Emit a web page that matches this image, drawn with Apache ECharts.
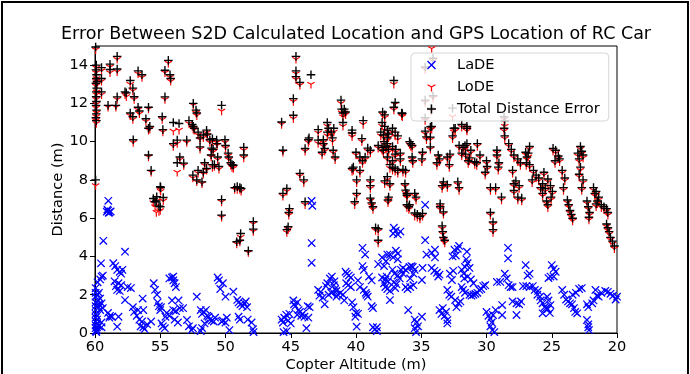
<!DOCTYPE html>
<html>
<head>
<meta charset="utf-8">
<script src="https://cdn.jsdelivr.net/npm/echarts@6/dist/echarts.min.js"></script>
<style>
html,body{margin:0;padding:0;background:#fff;}
#chart{width:690px;height:374px;}
</style>
</head>
<body>
<div id="chart"></div>
<script>
// ---- data ----
const chartTitle = 'Error Between S2D Calculated Location and GPS Location of RC Car';
const seriesNames = ['LaDE', 'LoDE', 'Total Distance Error'];
const xTicks = [20, 25, 30, 35, 40, 45, 50, 55, 60];
const yTicks = [0, 2, 4, 6, 8, 10, 12, 14];

// [copter altitude (m), total distance error (m), LoDE (m)]
const totalRows = [
[59.95,14.95,14.8],[59.9,14.0,13.85],[59.92,13.75,13.6],[59.88,13.5,13.3],[59.9,13.3,13.15],[59.93,13.05,12.9],[59.87,12.8,12.6],[59.9,12.6,12.45],[59.91,12.35,12.2],[59.89,12.1,11.95],
[59.92,11.9,11.75],[59.88,11.65,11.5],[59.9,11.45,11.3],[59.93,11.25,11.1],[59.9,11.1,10.95],[59.95,8.0,7.7],[59.85,13.15,13.0],[59.5,13.87,13.7],[59.5,13.3,13.15],[59.5,12.6,12.45],
[59.0,11.9,11.8],[58.4,11.9,11.8],[58.85,14.05,13.9],[58.85,13.77,13.6],[58.3,14.46,14.3],[58.3,13.8,13.65],[58.3,12.34,12.2],[57.7,12.6,12.45],[57.6,12.55,12.35],[57.3,13.2,13.0],
[57.1,12.8,12.65],[57.0,12.35,12.2],[57.3,11.5,11.35],[57.1,11.3,11.15],[57.07,10.1,9.95],[56.7,13.7,13.55],[56.4,13.5,13.35],[56.7,11.8,11.65],[56.6,11.6,11.45],[56.1,11.2,11.05],
[55.9,11.8,11.7],[55.9,10.7,10.6],[55.8,10.8,10.65],[55.9,9.3,9.2],[55.7,8.5,8.4],[55.0,7.65,7.5],[55.53,7.03,6.8],[55.4,6.86,6.6],[55.27,7.12,6.9],[54.97,7.6,7.4],
[54.77,7.08,6.9],[55.1,6.63,6.35],[55.0,6.6,6.4],[55.3,6.9,6.3],[54.85,11.3,11.15],[54.8,10.63,10.5],[54.64,12.34,12.2],[54.64,13.73,13.6],[54.38,14.25,14.1],[54.25,13.5,13.35],
[54.2,13.3,13.15],[54.0,11.0,10.55],[53.56,10.95,10.6],[53.7,10.08,9.9],[54.0,9.9,9.75],[53.5,9.2,9.05],[53.7,8.9,8.4],[53.2,8.88,8.75],[52.97,10.08,9.95],[52.8,11.1,10.95],
[52.55,10.9,10.8],[52.47,10.8,10.65],[52.4,10.7,10.6],[52.26,11.65,11.5],[52.2,11.5,11.35],[52.47,12.0,11.9],[52.1,10.5,10.35],[51.95,10.2,10.1],[51.7,10.35,10.2],[51.95,9.73,9.6],
[51.7,8.4,8.3],[51.8,7.9,7.8],[51.45,10.6,10.45],[51.4,10.4,10.3],[51.45,8.6,8.5],[51.2,10.1,9.95],[51.0,10.15,10.0],[51.07,9.66,9.5],[50.95,9.6,9.45],[51.1,9.3,9.2],
[51.0,8.8,8.65],[50.85,8.8,8.7],[50.6,9.2,9.05],[50.5,8.7,8.55],[50.68,10.08,9.95],[50.65,9.9,9.8],[50.3,11.9,11.6],[50.04,10.1,9.95],[50.0,9.8,9.65],[49.8,9.4,9.25],
[49.75,9.2,9.05],[49.6,8.9,8.75],[49.5,8.8,8.65],[49.4,8.77,8.6],[52.5,8.25,8.1],[52.2,8.0,7.9],[52.1,8.5,8.35],[51.6,8.9,8.75],[49.3,7.6,7.5],[49.1,7.65,7.5],
[48.9,7.6,7.5],[48.8,7.55,7.4],[50.3,6.97,6.85],[50.3,6.16,6.05],[49.14,4.77,4.65],[48.9,4.85,4.75],[48.84,5.2,5.0],[48.25,4.3,4.2],[47.87,5.82,5.7],[47.87,5.43,5.3],
[48.6,9.7,9.55],[48.6,9.3,9.15],[45.7,11.03,10.9],[45.6,9.55,9.45],[44.8,12.25,12.1],[44.8,11.38,11.2],[44.6,14.46,14.3],[44.6,13.7,13.55],[44.6,13.4,13.25],[44.3,13.1,12.95],
[43.45,13.5,13.0],[44.3,8.34,8.2],[44.0,8.0,7.85],[45.3,7.55,7.4],[45.6,7.3,7.15],[45.1,6.5,6.35],[45.15,6.3,6.15],[45.2,5.55,5.4],[45.3,5.4,5.25],[43.9,6.86,6.7],
[43.65,10.1,9.95],[43.9,9.64,9.5],[42.9,10.63,10.45],[43.6,10.2,10.05],[42.2,11.0,10.8],[42.1,10.7,10.5],[42.2,10.5,10.3],[41.9,10.5,10.35],[41.7,10.7,10.5],[41.8,10.2,10.0],
[42.5,10.1,9.95],[41.15,12.17,12.0],[41.1,11.7,11.5],[40.9,11.7,11.5],[41.0,11.5,11.3],[40.8,11.55,11.4],[41.0,11.0,10.8],[40.3,10.6,10.4],[40.3,10.45,10.25],[39.45,11.1,10.9],
[37.1,13.2,13.0],[37.96,11.55,11.4],[37.1,11.8,11.65],[37.0,12.05,11.95],[36.5,11.5,11.35],[38.0,11.0,10.8],[37.8,10.8,10.6],[37.6,10.6,10.4],[37.5,10.4,10.2],[37.2,10.7,10.5],
[37.0,10.5,10.3],[36.8,10.3,10.1],[34.6,10.25,10.1],[37.8,11.4,11.25],[36.45,11.47,11.3],[37.85,10.0,9.85],[37.6,9.9,9.75],[37.2,9.75,9.6],[36.95,9.6,9.45],[37.0,9.35,9.2],
[36.6,9.4,9.25],[35.9,10.0,9.85],[35.8,9.9,9.75],[37.6,9.2,9.05],[37.2,9.0,8.85],[37.4,8.8,8.6],[37.0,8.6,8.45],[36.4,8.55,8.4],[36.2,8.5,8.35],[37.6,8.17,8.0],
[37.8,7.95,7.8],[37.5,7.1,6.95],[37.55,6.95,6.8],[36.2,7.47,7.3],[36.1,7.2,7.05],[36.1,6.7,6.55],[35.95,6.6,6.45],[35.5,7.3,7.15],[35.4,7.1,6.95],[35.5,6.27,6.1],
[35.3,6.2,6.05],[35.1,6.1,5.95],[34.9,6.25,6.1],[35.7,9.8,9.65],[35.7,9.2,9.05],[35.65,9.0,8.85],[34.9,9.45,9.3],[34.95,9.1,8.95],[34.3,10.77,10.6],[34.3,10.24,10.1],
[34.3,9.73,9.6],[34.25,11.75,11.6],[34.7,10.55,10.4],[33.7,9.3,9.15],[33.6,9.1,8.95],[33.8,8.9,8.75],[33.0,9.2,9.05],[32.8,9.35,9.2],[32.85,8.8,8.65],[32.5,10.7,10.5],
[31.9,10.9,10.75],[32.6,10.3,10.15],[31.5,10.8,10.65],[32.1,9.8,9.65],[31.8,9.7,9.55],[31.9,9.4,9.25],[31.65,9.8,9.6],[33.3,7.9,7.75],[33.0,7.75,7.6],[33.4,7.7,7.55],
[32.2,7.9,7.75],[32.1,7.6,7.45],[33.55,6.6,6.45],[33.3,6.33,6.2],[33.4,5.6,5.45],[33.35,5.3,5.15],[33.3,5.0,4.85],[31.5,9.9,9.75],[31.6,9.35,9.2],[31.4,9.0,8.85],
[31.2,9.55,9.4],[31.3,9.15,9.0],[30.7,9.9,9.75],[30.5,9.3,9.15],[30.75,8.9,8.75],[30.9,8.95,8.8],[30.0,9.0,8.85],[29.95,8.7,8.55],[30.1,8.4,8.25],[29.7,7.6,7.45],
[29.3,7.6,7.45],[28.85,7.1,6.95],[29.7,6.3,6.15],[29.5,5.8,5.65],[29.5,5.4,5.25],[29.2,9.55,9.4],[29.2,9.3,9.15],[29.05,8.9,8.75],[29.1,8.67,8.5],[28.65,11.3,11.15],
[28.65,10.7,10.55],[28.6,10.3,10.15],[28.3,9.9,9.75],[28.1,9.6,9.45],[27.9,9.3,9.15],[28.0,8.5,8.35],[27.9,7.8,7.65],[27.75,7.95,7.8],[27.9,7.45,7.3],[27.5,7.7,7.55],
[27.6,7.1,6.95],[27.3,7.05,6.9],[27.6,9.1,8.95],[27.4,8.9,8.75],[27.0,9.45,9.3],[26.9,9.2,9.05],[26.95,8.9,8.75],[26.7,9.75,9.6],[26.8,9.4,9.2],[26.7,8.8,8.65],
[26.4,8.5,8.35],[26.2,8.25,8.1],[26.0,8.1,7.95],[26.5,8.0,7.85],[25.7,7.8,7.65],[25.85,7.6,7.45],[25.7,7.3,7.15],[25.5,7.55,7.4],[25.4,6.9,6.75],[25.3,6.7,6.55],
[25.6,8.4,8.25],[25.3,8.05,7.9],[25.1,7.7,7.55],[24.95,7.4,7.25],[25.05,7.1,6.95],[24.9,9.65,9.5],[24.7,9.55,9.4],[24.5,9.25,9.1],[24.4,9.1,8.95],[24.75,9.0,8.85],
[24.2,8.5,8.35],[24.0,8.1,7.95],[24.1,7.6,7.45],[23.8,6.95,6.8],[23.7,6.7,6.55],[23.6,6.4,6.25],[23.5,6.2,6.05],[23.4,6.0,5.85],[22.8,9.75,9.6],[22.7,9.5,9.35],
[22.6,9.3,9.15],[22.9,9.1,8.95],[23.0,9.4,9.25],[22.8,8.67,8.5],[22.9,8.3,8.15],[22.6,8.0,7.85],[22.7,7.6,7.45],[22.3,6.9,6.75],[22.2,6.6,6.45],[22.1,6.3,6.15],
[22.15,6.05,5.9],[21.8,7.6,7.45],[21.6,7.4,7.25],[21.4,7.1,6.95],[21.2,6.7,6.55],[21.0,6.6,6.45],[20.8,6.5,6.35],[20.7,6.3,6.15],[21.7,7.3,7.15],[21.5,6.9,6.75],
[21.6,6.75,6.6],[20.8,5.7,5.55],[20.7,5.5,5.35],[20.6,5.3,5.15],[20.5,5.0,4.85],[20.35,4.8,4.65],[20.2,4.55,4.4],[34.2,15.2,14.87],[34.7,12.17,12.05],[34.1,12.4,12.27],
[32.6,11.75,11.3],[34.7,11.25,11.1],[28.6,11.1,10.8],[34.2,10.8,10.65],[32.4,10.7,10.55],[31.5,10.7,10.55],[34.1,14.36,14.2],[34.7,13.9,13.75],[42.9,10.08,9.9],[42.5,9.9,9.75],
[42.4,9.65,9.5],[42.6,9.45,9.3],[41.75,9.55,9.4],[41.6,9.2,9.05],[40.0,9.45,9.3],[39.7,9.2,9.05],[39.5,9.0,8.85],[39.3,9.2,9.05],[40.3,8.6,8.45],[40.2,8.67,8.5],
[39.7,8.5,8.35],[39.95,8.0,7.85],[39.55,10.16,10.0],[39.1,9.66,9.5],[38.9,9.55,9.4],[38.9,8.0,7.85],[38.9,7.7,7.55],[39.95,7.3,7.15],[40.1,6.86,6.7],[38.9,7.05,6.9],
[38.8,6.8,6.65],[38.7,6.6,6.45],[38.5,5.5,5.35],[38.3,5.45,5.3],[38.3,4.85,4.7],[38.3,9.8,9.65],[38.0,9.7,9.55],[37.9,9.55,9.4],[37.7,9.75,9.6],[37.5,9.6,9.45],
[38.1,10.5,10.3],[37.9,10.35,10.2],[37.6,10.2,10.05],[37.2,8.67,8.5],[36.8,8.5,8.35],[37.4,7.8,7.65],[36.6,9.1,8.95],[36.25,7.8,7.65],[36.1,7.3,7.15],[35.9,6.7,6.55],
[33.55,6.75,6.6],[33.2,4.85,4.7]
];

// [copter altitude (m), LaDE (m)]
const ladeRows = [
[59.95,0.1],[59.95,0.25],[59.95,0.4],[59.95,0.6],[59.95,0.8],[59.95,1.0],[59.95,1.2],[59.95,1.4],[59.95,1.6],[59.95,1.9],
[59.95,2.1],[59.95,2.35],[59.85,0.15],[59.85,0.3],[59.85,0.5],[59.85,0.7],[59.85,0.9],[59.8,1.7],[59.8,2.0],[59.7,1.5],
[59.7,1.35],[59.6,1.2],[59.5,0.3],[59.5,0.55],[59.7,0.35],[59.9,0.05],[58.98,6.91],[59.1,6.34],[59.0,6.4],[58.9,6.3],
[58.8,6.35],[59.05,6.45],[58.95,6.28],[59.36,4.82],[59.54,3.64],[59.8,2.65],[59.6,2.8],[59.5,2.95],[59.4,3.0],[59.7,2.1],
[59.6,1.8],[59.5,1.55],[59.4,1.3],[59.0,1.05],[58.85,0.9],[58.7,0.85],[58.9,0.8],[58.3,0.33],[58.2,0.85],[57.7,4.25],
[58.6,3.65],[58.45,3.5],[58.3,3.3],[58.1,3.2],[57.9,3.3],[58.0,3.1],[58.5,2.7],[58.4,2.45],[58.2,2.6],[58.0,2.5],
[58.1,2.2],[58.3,2.25],[57.7,1.72],[57.5,2.4],[57.25,2.35],[57.1,1.35],[57.0,1.1],[56.8,0.9],[56.7,1.2],[56.6,0.7],
[56.4,0.6],[56.5,0.35],[56.3,0.3],[56.2,0.2],[56.0,0.45],[55.7,0.6],[56.3,1.2],[56.35,1.8],[55.5,2.6],[55.4,2.25],
[55.25,2.0],[55.2,1.6],[55.1,1.4],[55.0,1.2],[54.95,1.35],[54.9,0.5],[54.8,0.35],[54.65,0.25],[54.3,2.85],[54.1,2.9],
[54.0,2.95],[53.9,2.6],[53.8,2.4],[54.0,2.75],[54.1,1.7],[54.0,1.2],[53.8,1.15],[53.6,1.7],[53.5,1.3],[54.5,1.05],
[54.6,0.85],[54.3,0.9],[53.9,0.7],[53.65,0.55],[53.25,1.3],[52.95,0.68],[52.8,0.35],[52.6,0.15],[52.5,0.25],[52.2,1.9],
[51.9,1.2],[51.8,1.0],[51.65,1.1],[51.5,1.2],[51.4,0.9],[51.3,0.85],[51.2,0.7],[51.05,0.65],[50.9,0.6],[50.8,0.8],
[51.6,0.5],[51.8,0.26],[51.9,0.1],[50.6,2.9],[50.5,2.75],[50.4,2.3],[50.2,2.6],[50.0,1.9],[50.3,0.6],[50.2,0.65],
[50.0,0.55],[49.9,0.8],[49.7,0.15],[49.4,2.16],[49.1,1.73],[49.0,1.6],[48.85,1.5],[48.7,1.4],[48.55,1.55],[48.45,1.65],
[48.35,1.35],[49.0,0.85],[48.9,0.7],[48.3,0.7],[48.0,0.55],[47.9,0.2],[47.85,0.05],[43.4,6.9],[43.35,6.65],[43.4,4.7],
[43.4,3.67],[45.7,0.7],[45.6,0.55],[45.5,0.8],[45.35,0.95],[45.1,1.0],[45.2,0.65],[45.0,0.5],[45.55,0.05],[45.3,0.1],
[44.8,1.7],[44.65,1.4],[44.5,1.6],[44.75,1.5],[44.3,1.1],[44.1,1.0],[43.95,0.85],[44.2,0.9],[44.5,0.95],[44.4,1.2],
[43.7,1.4],[43.55,1.35],[43.8,0.25],[43.65,0.8],[42.9,2.25],[42.7,2.15],[42.8,1.95],[42.55,1.85],[42.4,1.5],[42.3,2.45],
[42.2,2.6],[42.0,2.85],[41.85,2.95],[42.1,2.0],[41.9,2.1],[41.8,2.15],[41.5,1.9],[41.4,2.0],[41.2,2.1],[41.0,2.0],
[40.9,1.7],[41.7,2.5],[41.6,2.3],[41.5,2.2],[41.65,2.7],[40.8,3.2],[40.7,3.1],[40.55,3.0],[40.4,2.9],[40.75,2.6],
[40.6,2.5],[40.4,2.4],[40.3,1.6],[40.2,1.35],[40.0,1.05],[40.05,0.85],[39.85,1.0],[39.95,0.33],[39.85,2.75],[39.7,2.4],
[39.4,2.25],[39.25,2.1],[39.1,1.9],[39.2,2.0],[39.5,3.5],[39.4,3.3],[39.5,4.45],[39.3,4.1],[39.0,2.95],[38.8,2.75],
[38.8,1.4],[38.7,1.3],[38.4,0.3],[38.7,0.3],[38.55,0.2],[38.4,0.1],[38.3,3.6],[38.0,3.95],[37.85,3.5],[37.7,3.75],
[37.6,4.1],[38.0,2.9],[37.75,2.8],[37.65,2.95],[37.85,2.6],[37.55,2.7],[37.75,2.4],[37.6,2.3],[37.4,2.2],[37.4,1.72],
[37.4,4.1],[37.15,3.95],[36.95,4.3],[36.8,4.15],[36.8,3.85],[37.1,5.5],[36.95,5.35],[36.6,5.3],[36.8,5.15],[37.15,5.2],
[37.2,3.3],[37.05,3.1],[36.8,3.0],[36.65,2.85],[36.55,3.3],[36.4,3.1],[37.1,2.65],[36.9,2.55],[37.0,2.35],[36.4,3.4],
[36.2,3.3],[35.9,3.45],[35.75,3.5],[35.65,3.45],[35.5,3.3],[36.2,2.4],[36.05,2.3],[35.85,2.4],[35.6,2.5],[36.0,1.2],
[35.85,2.85],[35.6,3.1],[35.5,0.7],[35.35,0.55],[35.25,0.35],[35.5,0.25],[35.4,0.05],[34.95,0.85],[34.95,2.77],[34.9,3.4],
[34.7,4.85],[34.6,4.1],[34.7,6.7],[34.2,3.4],[34.0,3.25],[33.8,3.15],[33.7,2.95],[33.6,3.05],[34.2,4.2],[33.95,4.35],
[33.95,3.95],[33.6,1.2],[33.45,1.0],[33.35,1.3],[33.1,1.1],[33.2,0.9],[33.0,0.68],[33.0,0.5],[33.0,2.25],[32.85,2.0],
[32.7,1.9],[32.6,4.0],[32.45,4.35],[32.35,4.05],[32.2,4.4],[32.1,4.55],[32.8,3.1],[32.55,3.25],[32.65,2.77],[32.4,1.72],
[32.15,1.55],[32.3,1.35],[32.0,1.65],[31.9,2.4],[31.8,2.25],[31.65,2.1],[31.9,3.3],[31.75,3.1],[31.65,3.45],[31.7,2.85],
[31.5,4.25],[31.55,3.85],[31.45,3.65],[31.3,3.4],[31.45,2.95],[31.2,2.8],[31.0,2.6],[31.3,2.0],[31.15,1.95],[31.0,2.0],
[30.85,2.05],[30.7,2.1],[30.55,2.25],[30.4,2.3],[30.25,2.45],[30.1,2.5],[30.0,1.1],[29.85,0.9],[29.7,0.75],[29.6,0.55],
[29.7,0.35],[29.55,0.15],[29.4,0.05],[29.5,0.94],[29.3,1.2],[29.2,2.67],[28.95,2.67],[28.8,1.46],[28.8,0.94],[28.6,3.1],
[28.45,2.85],[28.3,2.5],[28.15,2.4],[28.35,4.45],[28.35,3.9],[28.0,2.4],[28.0,1.65],[27.7,1.55],[27.7,0.94],[27.5,1.5],
[27.35,1.65],[27.0,3.55],[26.85,3.0],[26.7,3.1],[27.2,2.45],[26.95,2.45],[26.7,2.4],[26.45,2.45],[26.3,2.25],[26.05,2.2],
[25.9,1.9],[26.1,2.0],[25.85,1.7],[25.7,1.55],[25.55,1.35],[25.45,1.3],[25.3,1.25],[25.15,1.05],[25.7,1.03],[25.35,1.9],
[25.25,1.7],[25.1,1.46],[25.0,3.55],[24.85,3.35],[24.7,3.2],[25.1,2.95],[25.25,2.87],[24.85,2.95],[24.2,2.25],[24.05,2.0],
[23.9,1.75],[23.75,1.65],[23.6,1.55],[23.45,1.5],[23.3,1.3],[23.2,1.1],[23.05,1.03],[23.4,2.0],[23.15,2.1],[22.9,2.3],
[22.7,2.35],[22.3,0.68],[22.2,0.45],[22.2,0.3],[22.15,0.15],[22.3,1.5],[22.2,1.35],[21.9,1.55],[21.8,1.7],[21.65,2.25],
[21.55,1.95],[21.4,1.9],[21.2,2.1],[20.9,2.2],[20.7,2.15],[20.5,2.05],[20.3,1.95],[20.1,1.75],[20.0,1.9]
];

const ladeData = ladeRows.map(r => [r[0], r[1]]);
const lodeData = totalRows.map(r => [r[0], r[2]]);
const totalData = totalRows.map(r => [r[0], r[1]]);

// ---- marker shapes (matplotlib-like x, tri_down, +) ----
const PATH_X = 'path://M0,1.06L1.06,0L5,3.94L8.94,0L10,1.06L6.06,5L10,8.94L8.94,10L5,6.06L1.06,10L0,8.94L3.94,5Z';
const PATH_TRI = 'path://M5,0L5.02,0L5.01,0.02Z M4.3,5L5.7,5L5.7,10L4.3,10Z M4.65,5.606L0.32,3.106L1.02,1.894L5.35,4.394Z M4.65,4.394L8.98,1.894L9.68,3.106L5.35,5.606Z';
const PATH_PLUS = 'path://M4.2,0H5.8V4.2H10V5.8H5.8V10H4.2V5.8H0V4.2H4.2Z';
const COLORS = ['#0000ff', '#ff0000', '#000000'];
const FONT = 'DejaVu Sans';

const chart = echarts.init(document.getElementById('chart'), null, {renderer: 'canvas'});

const axisFont = {color: '#000', fontSize: 14.6, fontFamily: FONT};

chart.setOption({
  animation: false,
  backgroundColor: '#fff',
  grid: {left: 95, right: 73, top: 46, bottom: 41, show: true, borderColor: '#000', borderWidth: 1,
         backgroundColor: 'transparent', containLabel: false, outerBoundsMode: 'none'},
  legend: {
    data: seriesNames,
    orient: 'vertical',
    left: 411, top: 53,
    padding: [4, 9, 4, 16],
    itemWidth: 9, itemHeight: 9, itemGap: 6,
    backgroundColor: 'rgba(255,255,255,0.8)',
    borderColor: 'rgba(204,204,204,0.8)', borderWidth: 1, borderRadius: 4,
    textStyle: {color: '#000', fontSize: 14.6, fontFamily: FONT, padding: [0, 0, 0, 16], lineHeight: 16},
    selectedMode: false,
    z: 10
  },
  xAxis: {
    type: 'value', inverse: true, min: 20, max: 60, interval: 5,
    axisLine: {show: true, lineStyle: {color: '#000', width: 1}},
    axisTick: {show: true, inside: false, length: 5, lineStyle: {color: '#000'}},
    axisLabel: Object.assign({margin: 7}, axisFont),
    splitLine: {show: false},
    name: 'Copter Altitude (m)', nameLocation: 'middle', nameGap: 25, nameMoveOverlap: false,
    nameTextStyle: axisFont
  },
  yAxis: {
    type: 'value', min: 0, max: 15, interval: 2,
    axisLine: {show: true, lineStyle: {color: '#000', width: 1}},
    axisTick: {show: true, inside: false, length: 5, lineStyle: {color: '#000'}, customValues: yTicks},
    axisLabel: Object.assign({margin: 7, customValues: yTicks}, axisFont),
    splitLine: {show: false},
    name: 'Distance (m)', nameLocation: 'middle', nameGap: 29, nameRotate: 90, nameMoveOverlap: false,
    nameTextStyle: axisFont
  },
  graphic: [
    {type: 'rect', z: 200, silent: true, shape: {x: 2, y: 2, width: 686, height: 380}, style: {fill: 'none', stroke: '#000', lineWidth: 2}},
    {type: 'text', z: 100, x: 356, y: 34, style: {text: chartTitle, fill: '#000', fontSize: 17.5, fontFamily: FONT, align: 'center', verticalAlign: 'middle'}}
  ],
  series: [
    {name: seriesNames[0], type: 'scatter', data: ladeData, symbol: PATH_X, symbolSize: [8.3, 8.3],
     itemStyle: {color: COLORS[0], opacity: 1}, z: 2, clip: true, emphasis: {disabled: true}},
    {name: seriesNames[1], type: 'scatter', data: lodeData, symbol: PATH_TRI, symbolSize: [7.9, 8.4],
     itemStyle: {color: COLORS[1], opacity: 1}, z: 3, clip: true, emphasis: {disabled: true}},
    {name: seriesNames[2], type: 'scatter', data: totalData, symbol: PATH_PLUS, symbolSize: [8.6, 8.6],
     itemStyle: {color: COLORS[2], opacity: 1}, z: 4, clip: true, emphasis: {disabled: true}}
  ]
});
</script>
</body>
</html>
